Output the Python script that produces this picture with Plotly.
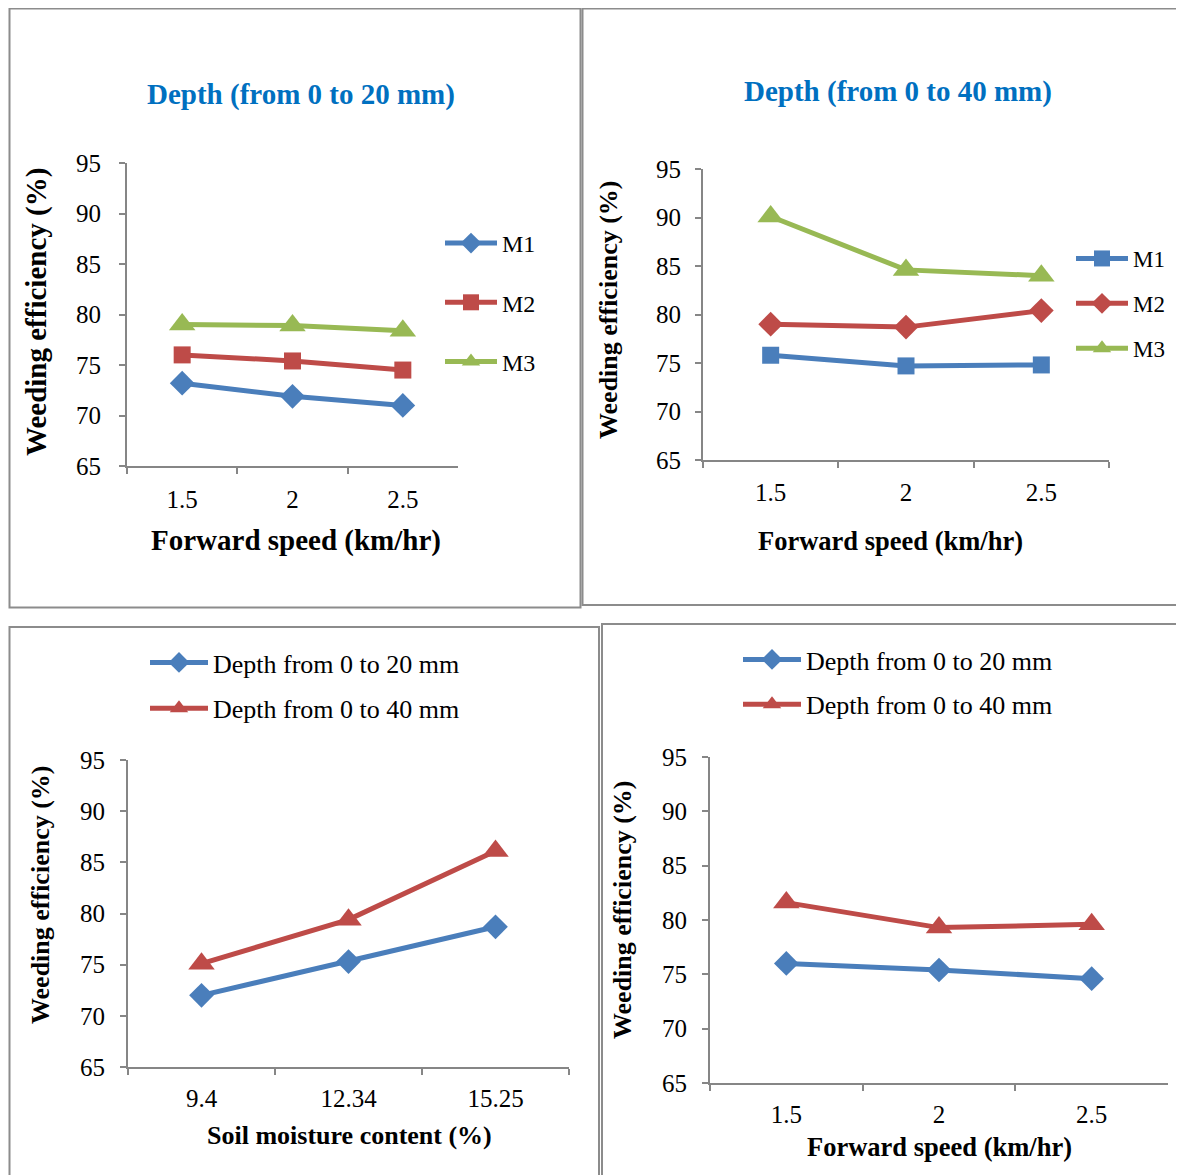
import plotly.graph_objects as go

# Browser body has an 8px margin; compensate so page pixels match the reference.
OFF = 8
W, H = 1184 - OFF, 1175 - OFF

# ---- data ----
speed_labels = ["1.5", "2", "2.5"]
moisture_labels = ["9.4", "12.34", "15.25"]

p1_m1 = [73.2, 71.9, 71.0]
p1_m2 = [76.0, 75.4, 74.5]
p1_m3 = [79.0, 78.9, 78.4]

p2_m1 = [75.8, 74.7, 74.8]
p2_m2 = [79.0, 78.7, 80.4]
p2_m3 = [90.1, 84.6, 84.0]

p3_d20 = [72.0, 75.3, 78.7]
p3_d40 = [75.1, 79.4, 86.1]

p4_d20 = [76.0, 75.4, 74.6]
p4_d40 = [81.6, 79.3, 79.6]

y_ticks = [65, 70, 75, 80, 85, 90, 95]

BLUE = "#4A7EBB"
RED = "#BE4B48"
GREEN = "#98B954"
AXC = "#868686"
FONT = "Liberation Serif"
TITLEC = "#0070C0"


def px_x(x):
    return (x - OFF) / W


def px_y(y):
    return 1 - (y - OFF) / H


fig = go.Figure()

# (xaxis id, yaxis id, x-domain px, y-domain px (top,bottom), tick font size, y standoff, x standoff)
panels = [
    ("x", "y", (127, 458), (163, 466), 25, 13, 10),
    ("x2", "y2", (703, 1109), (169, 460), 25, 9, 9),
    ("x3", "y3", (128, 569), (760, 1067), 25, 10, 8),
    ("x4", "y4", (710, 1168), (757, 1083), 25, 10, 8),
]


def add_line(xref, yref, xcats, vals, name, color, symbol, msize, legend, group):
    fig.add_trace(go.Scatter(
        x=xcats, y=vals, name=name, mode="lines+markers",
        line=dict(color=color, width=5),
        marker=dict(symbol=symbol, size=msize, color=color),
        xaxis=xref, yaxis=yref, legend=legend, legendgroup=group,
    ))


DS, SS, TS = 19, 17, 23

add_line("x", "y", speed_labels, p1_m1, "M1", BLUE, "diamond", DS, "legend", "a")
add_line("x", "y", speed_labels, p1_m2, "M2", RED, "square", SS, "legend", "b")
add_line("x", "y", speed_labels, p1_m3, "M3", GREEN, "triangle-up", TS, "legend", "c")

add_line("x2", "y2", speed_labels, p2_m1, "M1", BLUE, "square", SS, "legend2", "a")
add_line("x2", "y2", speed_labels, p2_m2, "M2", RED, "diamond", DS, "legend2", "b")
add_line("x2", "y2", speed_labels, p2_m3, "M3", GREEN, "triangle-up", TS, "legend2", "c")

add_line("x3", "y3", moisture_labels, p3_d20, "Depth from 0 to 20 mm", BLUE, "diamond", DS, "legend3", "a")
add_line("x3", "y3", moisture_labels, p3_d40, "Depth from 0 to 40 mm", RED, "triangle-up", TS, "legend3", "b")

add_line("x4", "y4", speed_labels, p4_d20, "Depth from 0 to 20 mm", BLUE, "diamond", DS, "legend4", "a")
add_line("x4", "y4", speed_labels, p4_d40, "Depth from 0 to 40 mm", RED, "triangle-up", TS, "legend4", "b")

layout = dict(
    width=W, height=H, margin=dict(l=0, r=0, t=0, b=0, pad=0, autoexpand=False),
    paper_bgcolor="white", plot_bgcolor="white",
    font=dict(family=FONT, color="#000000"),
)

for xa, ya, (x0, x1), (y0, y1), fs, ysd, xsd in panels:
    xkey = "xaxis" + xa[1:]
    ykey = "yaxis" + ya[1:]
    layout[xkey] = dict(
        domain=[px_x(x0), px_x(x1)], anchor=ya, type="category",
        range=[-0.5, 2.5], showgrid=False, zeroline=False, automargin=False,
        showline=True, linecolor=AXC, linewidth=2,
        ticks="outside", tickson="boundaries", ticklen=6, tickcolor=AXC, tickwidth=2,
        tickfont=dict(family=FONT, size=fs, color="#000"),
        ticklabelstandoff=xsd,
    )
    layout[ykey] = dict(
        domain=[px_y(y1), px_y(y0)], anchor=xa, automargin=False,
        range=[65, 95], tickvals=y_ticks, showgrid=False, zeroline=False,
        showline=True, linecolor=AXC, linewidth=2,
        ticks="outside", ticklen=6, tickcolor=AXC, tickwidth=2,
        tickfont=dict(family=FONT, size=fs, color="#000"),
        ticklabelstandoff=ysd,
    )

leg_common = dict(xanchor="left", yanchor="top", bgcolor="rgba(0,0,0,0)",
                  traceorder="grouped")
layout["legend"] = dict(x=px_x(440), y=px_y(221), tracegroupgap=25, itemwidth=52,
                        font=dict(family=FONT, size=24), **leg_common)
layout["legend2"] = dict(x=px_x(1071), y=px_y(237), tracegroupgap=12, itemwidth=52,
                         font=dict(family=FONT, size=23), **leg_common)
layout["legend3"] = dict(x=px_x(145), y=px_y(639), tracegroupgap=9, itemwidth=58,
                         font=dict(family=FONT, size=26), **leg_common)
layout["legend4"] = dict(x=px_x(738), y=px_y(636), tracegroupgap=8, itemwidth=58,
                         font=dict(family=FONT, size=26), **leg_common)

fig.update_layout(**layout)

# panel borders
borders = [(9.5, 8.5, 580.5, 607.5), (582.5, 8.5, 1190, 605), (9.5, 627, 599, 1180), (602, 624, 1190, 1180)]
for bx0, by0, bx1, by1 in borders:
    fig.add_shape(type="rect", xref="paper", yref="paper",
                  x0=px_x(bx0), x1=px_x(bx1), y0=px_y(by1), y1=px_y(by0),
                  line=dict(color="#8C8C8C", width=2), layer="below")


def ann(text, x, y, size, bold=True, color="#000", angle=0):
    fig.add_annotation(
        text=f"<b>{text}</b>" if bold else text,
        x=px_x(x), y=px_y(y), xref="paper", yref="paper",
        xanchor="center", yanchor="middle", showarrow=False, textangle=angle,
        font=dict(family=FONT, size=size, color=color),
    )


# titles
ann("Depth (from 0 to 20 mm)", 301, 95, 29, color=TITLEC)
ann("Depth (from 0 to 40 mm)", 898, 91, 29, color=TITLEC)

# axis titles
ann("Weeding efficiency (%)", 36, 312, 29, angle=-90)
ann("Forward speed (km/hr)", 296, 540, 29)
ann("Weeding efficiency (%)", 609, 310, 26, angle=-90)
ann("Forward speed (km/hr)", 890, 541, 26.5)
ann("Weeding efficiency (%)", 40, 895, 26, angle=-90)
ann("Soil moisture content (%)", 349, 1135, 26)
ann("Weeding efficiency (%)", 622, 910, 26, angle=-90)
ann("Forward speed (km/hr)", 939, 1147, 26.5)

fig.write_html("out.html")
